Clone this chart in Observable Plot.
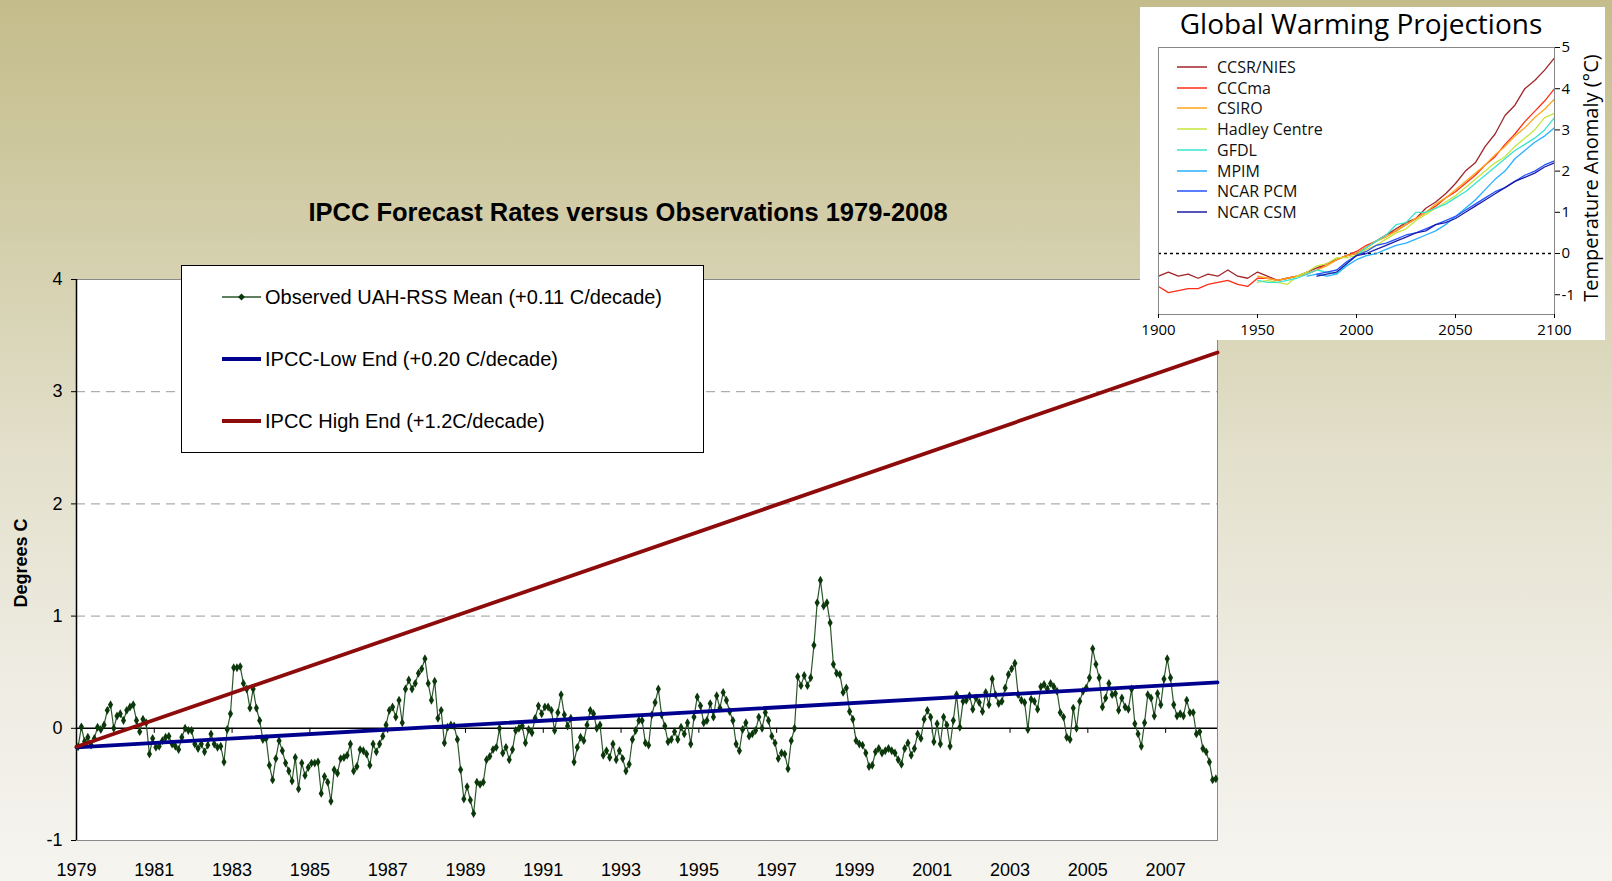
<!DOCTYPE html>
<html><head><meta charset="utf-8">
<script src="https://cdn.jsdelivr.net/npm/d3@7"></script>
<script src="https://cdn.jsdelivr.net/npm/@observablehq/plot@0.6"></script>
<style>
html,body{margin:0;padding:0;}
body{width:1612px;height:881px;overflow:hidden;position:relative;
 background:linear-gradient(180deg,#c4bc8a 0%,#d4cfac 28%,#e3e0cc 52%,#eeece2 76%,#f5f4ef 100%);
 font-family:"Liberation Sans",Arial,sans-serif;}
#main{position:absolute;left:0;top:0;}
#legend{position:absolute;left:181px;top:265px;width:521px;height:186px;border:1px solid #000;background:#fff;}
.lrow{position:absolute;left:0;height:26px;display:flex;align-items:center;}
.lrow span{font-size:20px;color:#000;white-space:nowrap;margin-left:4px;}
#inset{position:absolute;left:1140px;top:7px;}
#insetLegend{position:absolute;left:1177px;top:57px;font-family:"Open Sans",sans-serif;}
.irow{position:absolute;left:0;height:20px;display:flex;align-items:center;}
.irow span{font-size:16px;color:#111;white-space:nowrap;margin-left:10px;}
</style></head><body>
<div id="main"></div>
<div id="legend"></div>
<div id="inset"></div>
<div id="insetLegend"></div>
<script>
// ---------- main chart data ----------
const mainTitle = "IPCC Forecast Rates versus Observations 1979-2008";
const yAxisLabel = "Degrees C";
const startYear = 1979;
const yearLabels = [1979,1981,1983,1985,1987,1989,1991,1993,1995,1997,1999,2001,2003,2005,2007];
const yTicks = [-1,0,1,2,3,4];
const gridValues = [1,2,3];
// monthly observed anomalies, Jan 1979 onward
const observed = [
-0.165,0.013,-0.118,-0.08,-0.15,-0.09,0.01,-0.01,0.03,0.16,0.21,0.0,0.11,0.13,0.07,0.16,0.19,0.21,0.07,-0.03,0.08,0.05,-0.23,-0.09,-0.17,-0.16,-0.11,-0.08,-0.07,-0.14,-0.16,-0.19,-0.08,0.0,-0.02,-0.02,-0.14,-0.18,-0.14,-0.21,-0.15,-0.05,-0.14,-0.17,-0.16,-0.30,-0.01,0.13,0.54,0.54,0.55,0.40,0.35,0.18,
0.35,0.18,0.07,-0.10,-0.09,-0.33,-0.46,-0.27,-0.11,-0.20,-0.31,-0.38,-0.47,-0.26,-0.54,-0.31,-0.42,-0.35,-0.31,-0.31,-0.30,-0.58,-0.43,-0.48,-0.65,-0.37,-0.40,-0.27,-0.26,-0.24,-0.14,-0.38,-0.34,-0.19,-0.20,-0.23,-0.33,-0.14,-0.21,-0.14,-0.07,0.03,0.16,0.19,0.10,0.25,0.05,0.35,0.43,0.35,0.40,0.49,0.53,0.62,0.40,0.25,0.42,0.09,
0.16,-0.13,0.01,0.03,0.02,-0.10,-0.37,-0.63,-0.52,-0.64,-0.76,-0.48,-0.50,-0.48,-0.28,-0.25,-0.19,-0.17,0.0,-0.22,-0.17,-0.28,-0.19,-0.02,0.0,0.02,-0.13,-0.01,-0.04,0.09,0.20,0.13,0.19,0.19,0.16,-0.02,0.14,0.30,0.12,0.02,0.09,-0.30,-0.17,-0.08,-0.11,0.03,0.16,0.13,0.0,0.03,-0.24,-0.20,-0.26,-0.14,-0.28,-0.20,-0.27,-0.38,
-0.32,-0.10,-0.02,0.07,0.07,-0.13,-0.15,0.12,0.23,0.35,0.12,0.02,-0.12,-0.10,-0.03,-0.10,0.01,-0.05,0.05,-0.14,0.10,0.28,0.20,0.05,0.07,0.22,0.10,0.29,0.18,0.32,0.25,0.15,0.07,-0.14,-0.20,-0.01,0.05,-0.07,-0.05,-0.02,0.10,0.0,0.14,0.07,-0.07,-0.13,-0.27,-0.22,-0.23,-0.36,-0.11,0.0,0.46,0.38,0.47,0.38,0.45,0.74,1.12,
1.32,1.09,1.12,0.94,0.57,0.49,0.48,0.32,0.36,0.15,0.08,-0.11,-0.14,-0.15,-0.22,-0.34,-0.33,-0.21,-0.18,-0.22,-0.20,-0.18,-0.20,-0.22,-0.28,-0.32,-0.18,-0.13,-0.24,-0.18,-0.05,-0.09,0.08,0.16,0.10,-0.12,0.04,-0.14,0.10,0.03,-0.16,0.07,0.30,0.01,0.24,0.25,0.29,0.17,0.27,0.23,0.15,0.32,0.21,0.44,0.30,0.22,0.24,0.36,0.48,0.53,0.58,
0.30,0.25,0.23,-0.01,0.26,0.24,0.17,0.37,0.39,0.35,0.40,0.37,0.33,0.14,0.10,-0.08,-0.10,0.18,0.0,0.24,0.33,0.36,0.45,0.71,0.57,0.45,0.19,0.27,0.40,0.30,0.31,0.16,0.27,0.19,0.17,0.35,0.04,-0.05,-0.16,0.05,0.30,0.27,0.11,0.31,0.21,0.44,0.62,0.45,0.21,0.11,0.13,0.11,0.25,0.14,0.14,-0.05,-0.03,-0.18,-0.21,-0.30,-0.46,-0.45
];
// trend lines: value at start and end of the period
const lowEnd = [-0.17, 0.41];
const highEnd = [-0.165, 3.35];
const legendLabels = ["Observed UAH-RSS Mean (+0.11 C/decade)","IPCC-Low End (+0.20 C/decade)","IPCC High End (+1.2C/decade)"];
const obsLine = "#2b572b", obsMark = "#0a380a", lowColor = "#00008f", highColor = "#8e0b0b";

// ---------- inset data (every 5 years) ----------
const insetTitle = "Global Warming Projections";
const insetYLabel = "Temperature Anomaly (°C)";
const modelNames = ["CCSR/NIES","CCCma","CSIRO","Hadley Centre","GFDL","MPIM","NCAR PCM","NCAR CSM"];
const modelColors = ["#a0262a","#ff2c16","#ffa51c","#c6e63c","#3ae4cc","#28b0ff","#2453ff","#1c1ca6"];
const modelStart = [1900,1900,1950,1950,1950,1975,1980,1980];
const ccsrNies = [-0.55,-0.45,-0.55,-0.5,-0.6,-0.5,-0.55,-0.4,-0.55,-0.6,-0.45,-0.55,-0.65,-0.6,-0.55,-0.45,-0.35,-0.25,-0.15,-0.05,0.0,0.15,0.3,0.45,0.6,0.75,0.85,1.1,1.25,1.45,1.7,2.0,2.2,2.6,2.9,3.35,3.6,4.0,4.2,4.45,4.75];
const cccma = [-0.8,-0.95,-0.9,-0.85,-0.85,-0.75,-0.7,-0.65,-0.75,-0.8,-0.6,-0.6,-0.65,-0.6,-0.55,-0.5,-0.4,-0.25,-0.15,-0.05,0.05,0.2,0.3,0.45,0.55,0.7,0.85,1.0,1.15,1.35,1.5,1.7,1.9,2.15,2.35,2.65,2.9,3.2,3.45,3.7,4.0];
const csiro = [-0.55,-0.6,-0.65,-0.6,-0.55,-0.5,-0.4,-0.3,-0.15,-0.05,0.0,0.15,0.3,0.4,0.55,0.7,0.85,1.0,1.2,1.35,1.55,1.75,1.95,2.15,2.4,2.6,2.85,3.05,3.3,3.5,3.75];
const hadley = [-0.7,-0.65,-0.7,-0.75,-0.55,-0.45,-0.3,-0.25,-0.1,-0.1,-0.05,0.1,0.2,0.35,0.5,0.6,0.8,0.95,1.1,1.25,1.4,1.6,1.8,2.0,2.2,2.35,2.6,2.8,3.0,3.3,3.4];
const gfdl = [-0.65,-0.7,-0.7,-0.65,-0.6,-0.5,-0.4,-0.45,-0.5,-0.25,-0.05,0.15,0.3,0.45,0.7,0.75,1.0,1.0,1.1,1.2,1.35,1.5,1.7,1.9,2.1,2.3,2.5,2.65,2.8,3.0,3.3];
const mpim = [-0.55,-0.5,-0.55,-0.5,-0.3,-0.15,-0.05,0.0,0.1,0.2,0.25,0.35,0.45,0.55,0.7,0.9,1.1,1.3,1.55,1.8,2.0,2.3,2.5,2.7,2.85,3.05];
const ncarPcm = [-0.5,-0.45,-0.4,-0.2,-0.05,0.05,0.2,0.25,0.35,0.45,0.5,0.6,0.7,0.8,0.9,1.05,1.2,1.35,1.5,1.6,1.75,1.9,2.0,2.15,2.25];
const ncarCsm = [-0.55,-0.5,-0.45,-0.25,-0.05,0.0,0.1,0.2,0.3,0.4,0.5,0.55,0.7,0.75,0.85,1.0,1.15,1.3,1.45,1.6,1.75,1.85,1.95,2.1,2.2];
const insetXTicks = [1900,1950,2000,2050,2100];
const insetYTicks = [-1,0,1,2,3,4,5];

// ---------- main chart ----------
const n = observed.length;
const tickPos = yearLabels.map(y => (y - startYear) * 12);
const trendX = [0, n];
const fmt = d => d < 0 ? "-" + Math.abs(d) : String(d);

const main = Plot.plot({
  width: 1232, height: 881,
  marginLeft: 76, marginRight: 15, marginTop: 279, marginBottom: 41,
  style: {background: "transparent", color: "black", fontFamily: "'Liberation Sans', Arial, sans-serif", overflow: "visible"},
  x: {domain: [0, n], axis: null},
  y: {domain: [-1, 4], axis: null},
  marks: [
    Plot.frame({fill: "white", stroke: "#8a8a8a"}),
    Plot.ruleY(gridValues, {stroke: "#9a9a9a", strokeDasharray: "9,6"}),
    Plot.ruleY([0], {stroke: "black", strokeWidth: 1.5}),
    Plot.ruleX(tickPos.slice(1), {y1: 0, y2: -0.045, stroke: "black"}),
    Plot.ruleX([0], {stroke: "black", strokeWidth: 1.5}),
    Plot.axisY({ticks: yTicks, tickSize: 5, tickPadding: 9, fontSize: 18, tickFormat: fmt, label: null}),
    Plot.axisX({ticks: tickPos, tickSize: 0, tickPadding: 23, fontSize: 18, dx: 0, label: null,
      tickFormat: d => String(yearLabels[tickPos.indexOf(d)])}),
    Plot.line(observed, {x: (d, i) => i + 0.5, y: d => d, stroke: obsLine, strokeWidth: 1.2}),
    Plot.dot(observed, {x: (d, i) => i + 0.5, y: d => d, symbol: "diamond", r: 2.7, fill: obsMark, stroke: "none"}),
    Plot.line(lowEnd, {x: (d, i) => trendX[i], y: d => d, stroke: lowColor, strokeWidth: 3.8}),
    Plot.line(highEnd, {x: (d, i) => trendX[i], y: d => d, stroke: highColor, strokeWidth: 3.8}),
    Plot.text([mainTitle], {text: d => d, frameAnchor: "top", dx: -19, dy: -77, fontSize: 25.5, fontWeight: "bold"}),
    Plot.text([yAxisLabel], {text: d => d, frameAnchor: "left", textAnchor: "middle", rotate: -90, dx: -55, dy: 3, fontSize: 18, fontWeight: "bold"})
  ]
});
document.getElementById("main").appendChild(main);

// legend
const legend = document.getElementById("legend");
const rowTops = [31, 93, 155];
legendLabels.forEach((label, k) => {
  const row = document.createElement("div");
  row.className = "lrow";
  row.style.top = (rowTops[k] - 13) + "px";
  row.style.left = "40px";
  let svg;
  if (k === 0) {
    svg = `<svg width="39" height="26"><line x1="0" y1="13" x2="39" y2="13" stroke="${obsLine}" stroke-width="1.3"/><path d="M19.5 9.5 L23 13 L19.5 16.5 L16 13 Z" fill="${obsMark}"/></svg>`;
  } else {
    const c = k === 1 ? lowColor : highColor;
    svg = `<svg width="39" height="26"><line x1="0" y1="13" x2="39" y2="13" stroke="${c}" stroke-width="4"/></svg>`;
  }
  row.innerHTML = svg + `<span>${label}</span>`;
  legend.appendChild(row);
});

// ---------- inset ----------
const modelSeries = [ccsrNies, cccma, csiro, hadley, gfdl, mpim, ncarPcm, ncarCsm];
const insetRows = [];
modelSeries.forEach((vals, m) => vals.forEach((v, j) => insetRows.push({model: modelNames[m], year: modelStart[m] + 5 * j, value: v})));

const inset = Plot.plot({
  width: 465, height: 333,
  marginLeft: 18, marginRight: 51, marginTop: 40, marginBottom: 26,
  style: {background: "white", color: "black", fontFamily: "'Open Sans', sans-serif", overflow: "visible"},
  x: {domain: [1900, 2100], axis: null},
  y: {domain: [-1.48, 5], axis: null},
  color: {domain: modelNames, range: modelColors},
  marks: [
    Plot.ruleY([0], {stroke: "black", strokeDasharray: "3,3", strokeWidth: 1.6}),
    Plot.line(insetRows, {x: "year", y: "value", z: "model", stroke: "model", strokeWidth: 1.3}),
    Plot.frame({stroke: "#888"}),
    Plot.axisY({anchor: "right", ticks: insetYTicks, tickSize: 5, tickPadding: 2, fontSize: 15, tickFormat: fmt, label: null}),
    Plot.axisX({ticks: insetXTicks, tickSize: 4, tickPadding: 6, fontSize: 15, tickFormat: d => String(d), label: null}),
    Plot.text([insetTitle], {text: d => d, frameAnchor: "top", lineAnchor: "bottom", dx: 4.5, dy: -14, fontSize: 28}),
    Plot.text([insetYLabel], {text: d => d, frameAnchor: "right", textAnchor: "middle", rotate: -90, dx: 37, dy: -3, fontSize: 20})
  ]
});
document.getElementById("inset").appendChild(inset);

const il = document.getElementById("insetLegend");
modelNames.forEach((name, k) => {
  const row = document.createElement("div");
  row.className = "irow";
  row.style.top = (k * 20.7) + "px";
  row.innerHTML = `<svg width="30" height="20"><line x1="0" y1="10" x2="30" y2="10" stroke="${modelColors[k]}" stroke-width="1.5"/></svg><span>${name}</span>`;
  il.appendChild(row);
});
</script>
</body></html>
